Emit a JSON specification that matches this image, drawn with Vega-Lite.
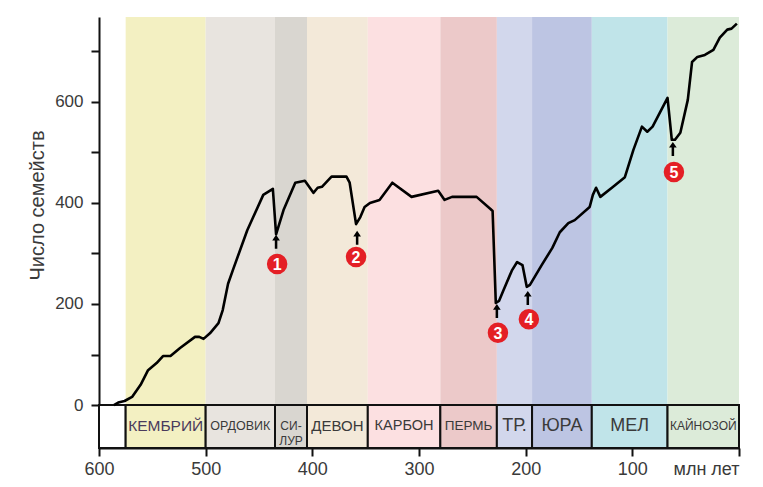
{
  "$schema": "https://vega.github.io/schema/vega-lite/v6.json",
  "width": 640,
  "height": 431,
  "autosize": "none",
  "padding": {"left": 99, "top": 17, "right": 24, "bottom": 39},
  "background": "white",
  "config": {"view": {"stroke": null}, "font": "Liberation Sans"},
  "datasets": {
    "periods": [
      {"name": "blank", "label": "", "start": 600, "end": 575},
      {"name": "Cambrian", "label": "КЕМБРИЙ", "start": 575, "end": 500},
      {"name": "Ordovician", "label": "ОРДОВИК", "start": 500, "end": 435},
      {"name": "Silurian", "label": "СИ-\nЛУР", "start": 435, "end": 405},
      {"name": "Devonian", "label": "ДЕВОН", "start": 405, "end": 348},
      {"name": "Carboniferous", "label": "КАРБОН", "start": 348, "end": 280},
      {"name": "Permian", "label": "ПЕРМЬ", "start": 280, "end": 227},
      {"name": "Triassic", "label": "ТР.", "start": 227, "end": 194},
      {"name": "Jurassic", "label": "ЮРА", "start": 194, "end": 138},
      {"name": "Cretaceous", "label": "МЕЛ", "start": 138, "end": 67},
      {"name": "Cenozoic", "label": "КАЙНОЗОЙ", "start": 67, "end": 0}
    ],
    "families": [
      {"ma": 586, "n": 0}, {"ma": 582, "n": 5}, {"ma": 576, "n": 8}, {"ma": 569, "n": 16},
      {"ma": 561, "n": 40}, {"ma": 554, "n": 69}, {"ma": 546, "n": 83}, {"ma": 540, "n": 97},
      {"ma": 533, "n": 97}, {"ma": 524, "n": 113}, {"ma": 510, "n": 135}, {"ma": 506, "n": 135},
      {"ma": 502, "n": 131}, {"ma": 496, "n": 142}, {"ma": 488, "n": 162}, {"ma": 484, "n": 188},
      {"ma": 479, "n": 240}, {"ma": 474, "n": 270}, {"ma": 461, "n": 346}, {"ma": 446, "n": 416},
      {"ma": 437, "n": 428}, {"ma": 434, "n": 338}, {"ma": 427, "n": 386}, {"ma": 416, "n": 440},
      {"ma": 407, "n": 444}, {"ma": 399, "n": 420}, {"ma": 395, "n": 430}, {"ma": 391, "n": 432},
      {"ma": 382, "n": 452}, {"ma": 368, "n": 452}, {"ma": 365, "n": 440}, {"ma": 359, "n": 358},
      {"ma": 355, "n": 372}, {"ma": 351, "n": 392}, {"ma": 346, "n": 400}, {"ma": 337, "n": 406},
      {"ma": 325, "n": 440}, {"ma": 307, "n": 412}, {"ma": 282, "n": 424}, {"ma": 276, "n": 406},
      {"ma": 269, "n": 412}, {"ma": 246, "n": 412}, {"ma": 233, "n": 388}, {"ma": 231, "n": 384},
      {"ma": 228, "n": 202}, {"ma": 225, "n": 206}, {"ma": 221, "n": 226}, {"ma": 213, "n": 266},
      {"ma": 208, "n": 283}, {"ma": 203, "n": 277}, {"ma": 199, "n": 234}, {"ma": 196, "n": 238},
      {"ma": 185, "n": 277}, {"ma": 175, "n": 311}, {"ma": 168, "n": 342}, {"ma": 160, "n": 360},
      {"ma": 154, "n": 366}, {"ma": 140, "n": 392}, {"ma": 137, "n": 416}, {"ma": 134, "n": 430},
      {"ma": 130, "n": 412}, {"ma": 118, "n": 432}, {"ma": 107, "n": 451}, {"ma": 99, "n": 505},
      {"ma": 91, "n": 551}, {"ma": 86, "n": 541}, {"ma": 81, "n": 551}, {"ma": 67, "n": 608},
      {"ma": 63, "n": 525}, {"ma": 60, "n": 525}, {"ma": 55, "n": 539}, {"ma": 48, "n": 604},
      {"ma": 44, "n": 679}, {"ma": 39, "n": 689}, {"ma": 32, "n": 693}, {"ma": 24, "n": 703},
      {"ma": 18, "n": 727}, {"ma": 11, "n": 743}, {"ma": 7, "n": 745}, {"ma": 2, "n": 755}
    ],
    "events": [
      {"id": "1", "ma": 433, "n": 279, "ama": 434, "an": 323},
      {"id": "2", "ma": 359, "n": 293, "ama": 358, "an": 331},
      {"id": "3", "ma": 226, "n": 143, "ama": 227, "an": 186},
      {"id": "4", "ma": 197, "n": 170, "ama": 198, "an": 212},
      {"id": "5", "ma": 61, "n": 461, "ama": 62, "an": 507}
    ]
  },
  "layer": [
    {
      "data": {"name": "periods"},
      "transform": [{"filter": "datum.name != 'blank'"}],
      "mark": {"type": "rect", "strokeWidth": 0},
      "encoding": {
        "x": {
          "field": "start", "type": "quantitative", "title": null,
          "scale": {"domain": [600, 0], "nice": false, "zero": false},
          "axis": {
            "values": [600, 500, 400, 300, 200, 100, 0],
            "labelExpr": "datum.value == 0 ? 'млн лет' : datum.label",
            "labelAlign": {"condition": {"test": "datum.value == 0", "value": "right"}, "value": "center"},
            "labelFontSize": 18,
            "labelColor": "#3a3a3a",
            "labelPadding": 4,
            "labelFlush": false,
            "labelOverlap": false,
            "tickSize": 8,
            "tickWidth": 2,
            "tickColor": "#111111",
            "domainColor": "#111111",
            "domainWidth": 2,
            "grid": false
          }
        },
        "x2": {"field": "end"},
        "y": {
          "datum": 0, "type": "quantitative", "title": "Число семейств",
          "scale": {"domain": [-85, 768], "nice": false, "zero": false},
          "axis": {
            "values": [0, 100, 200, 300, 400, 500, 600, 700],
            "labelExpr": "datum.value % 200 == 0 ? datum.label : ''",
            "labelFontSize": 17,
            "labelColor": "#3a3a3a",
            "labelPadding": 8,
            "labelFlush": false,
            "labelOverlap": false,
            "tickSize": 8,
            "tickWidth": 2,
            "tickColor": "#111111",
            "domainColor": "#111111",
            "domainWidth": 2,
            "grid": false,
            "titleFontSize": 20,
            "titleFontWeight": "normal",
            "titleColor": "#3a3a3a",
            "titleBaseline": "alphabetic",
            "titleAngle": -90,
            "titleX": -56,
            "titleY": 188
          }
        },
        "y2": {"datum": 768},
        "color": {
          "field": "name", "type": "nominal", "legend": null,
          "scale": {
            "domain": ["blank", "Cambrian", "Ordovician", "Silurian", "Devonian", "Carboniferous", "Permian", "Triassic", "Jurassic", "Cretaceous", "Cenozoic"],
            "range": ["#ffffff", "#f3f0c2", "#e8e4df", "#d9d6d0", "#f3e9d9", "#fce0e1", "#ecc9c9", "#d2d7ec", "#bdc5e3", "#c0e4e9", "#dcebd9"]
          }
        }
      }
    },
    {
      "data": {"name": "periods"},
      "mark": {"type": "rect", "stroke": "#111111", "strokeWidth": 2},
      "encoding": {
        "x": {"field": "start", "type": "quantitative", "title": null},
        "x2": {"field": "end"},
        "y": {"datum": -85, "type": "quantitative", "title": "Число семейств"},
        "y2": {"datum": 0},
        "color": {"field": "name", "type": "nominal", "legend": null}
      }
    },
    {
      "data": {"name": "periods"},
      "transform": [
        {"filter": "datum.name != 'blank'"},
        {"calculate": "(datum.start + datum.end) / 2", "as": "mid"}
      ],
      "mark": {"type": "text", "baseline": "middle", "align": "center", "lineBreak": "\n", "lineHeight": 15, "font": "Liberation Sans"},
      "encoding": {
        "x": {"field": "mid", "type": "quantitative", "title": null},
        "y": {"datum": -41, "type": "quantitative", "title": "Число семейств"},
        "text": {"field": "label"},
        "size": {
          "field": "name", "type": "nominal", "legend": null,
          "scale": {
            "type": "ordinal",
            "domain": ["Cambrian", "Ordovician", "Silurian", "Devonian", "Carboniferous", "Permian", "Triassic", "Jurassic", "Cretaceous", "Cenozoic"],
            "range": [15.5, 12.5, 12, 15, 14.5, 13.5, 18, 18, 18, 12]
          }
        },
        "color": {
          "condition": {"test": "datum.name == 'Cambrian'", "value": "#4a3b5c"},
          "value": "#3a3a3a"
        }
      }
    },
    {
      "data": {"name": "families"},
      "mark": {"type": "line", "color": "#000000", "strokeWidth": 2.6, "strokeJoin": "round"},
      "encoding": {
        "x": {"field": "ma", "type": "quantitative", "title": null},
        "y": {"field": "n", "type": "quantitative", "title": "Число семейств"}
      }
    },
    {
      "data": {"name": "events"},
      "mark": {"type": "point", "filled": true, "shape": "M0,-1L0.55,-0.2L0.18,-0.2L0.18,1L-0.18,1L-0.18,-0.2L-0.55,-0.2Z", "size": 196, "color": "#000000", "opacity": 1},
      "encoding": {
        "x": {"field": "ama", "type": "quantitative", "title": null},
        "y": {"field": "an", "type": "quantitative", "title": "Число семейств"}
      }
    },
    {
      "data": {"name": "events"},
      "mark": {"type": "point", "filled": true, "shape": "circle", "size": 420, "color": "#e41f25", "opacity": 1},
      "encoding": {
        "x": {"field": "ma", "type": "quantitative", "title": null},
        "y": {"field": "n", "type": "quantitative", "title": "Число семейств"}
      }
    },
    {
      "data": {"name": "events"},
      "mark": {"type": "text", "color": "#ffffff", "fontWeight": "bold", "fontSize": 16, "baseline": "middle", "align": "center", "dy": 1, "font": "Liberation Sans"},
      "encoding": {
        "x": {"field": "ma", "type": "quantitative", "title": null},
        "y": {"field": "n", "type": "quantitative", "title": "Число семейств"},
        "text": {"field": "id"}
      }
    }
  ]
}
